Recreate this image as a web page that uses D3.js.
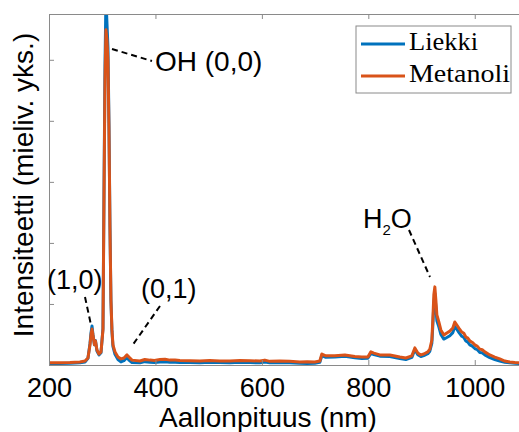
<!DOCTYPE html>
<html>
<head>
<meta charset="utf-8">
<script src="https://cdn.jsdelivr.net/npm/d3@7"></script>
<style>
  html, body { margin: 0; padding: 0; background: #fff; }
  svg { display: block; }
</style>
</head>
<body>
<svg id="chart" width="519" height="432"></svg>
<script>
// ---- data ----
const wavelength = [200, 220.7, 239.4, 258, 267.6, 273.2, 277, 278.9, 280.8, 282.6, 285.4, 287.3, 290.1, 293.9, 297.7, 301.4, 303.3, 305.2, 307.0, 308.9, 310.8, 312.7, 314.6, 316.4, 318.3, 320.2, 324.0, 329.6, 335.2, 340.8, 346.5, 350.2, 355.9, 370.9, 380, 389.7, 398, 408.5, 418, 427.2, 437, 446, 465, 483.6, 502, 521.1, 540, 558.7, 578, 596.2, 605.6, 615, 633.8, 652, 671.4, 685, 699.5, 708.9, 712.7, 720.2, 737.1, 755.9, 774.7, 787.8, 799.1, 804.8, 810.4, 821.6, 840.4, 859.2, 870.5, 881.8, 887.4, 893.0, 898.7, 904.3, 911.8, 915.6, 919.4, 921.2, 923.1, 925.0, 926.9, 928.8, 932.5, 936.3, 941.9, 947.5, 953.2, 958.8, 962.5, 966.3, 970.1, 975.7, 979.5, 983.2, 987, 990.7, 995.4, 1000.1, 1005, 1009.5, 1014, 1018.9, 1028.2, 1037.6, 1047.0, 1056.4, 1065.8, 1075.2, 1084.6];

const liekki = [0.005, 0.005, 0.006, 0.007, 0.010, 0.022, 0.070, 0.105, 0.128, 0.100, 0.066, 0.080, 0.046, 0.033, 0.040, 0.120, 0.560, 0.980, 1.200, 1.120, 1.040, 0.790, 0.450, 0.210, 0.110, 0.060, 0.035, 0.018, 0.010, 0.014, 0.025, 0.016, 0.008, 0.007, 0.011, 0.009, 0.008, 0.010, 0.011, 0.009, 0.009, 0.008, 0.008, 0.007, 0.009, 0.008, 0.007, 0.009, 0.008, 0.007, 0.010, 0.007, 0.008, 0.007, 0.006, 0.005, 0.006, 0.009, 0.031, 0.025, 0.026, 0.029, 0.024, 0.021, 0.022, 0.038, 0.034, 0.029, 0.028, 0.021, 0.018, 0.025, 0.050, 0.034, 0.028, 0.031, 0.037, 0.045, 0.072, 0.130, 0.200, 0.235, 0.190, 0.145, 0.125, 0.100, 0.085, 0.090, 0.096, 0.106, 0.126, 0.117, 0.107, 0.094, 0.090, 0.079, 0.075, 0.066, 0.062, 0.054, 0.050, 0.041, 0.040, 0.033, 0.024, 0.018, 0.013, 0.009, 0.007, 0.006, 0.005];

const metanoli = [0.007, 0.007, 0.008, 0.010, 0.013, 0.023, 0.066, 0.098, 0.118, 0.098, 0.066, 0.079, 0.049, 0.036, 0.043, 0.115, 0.541, 0.934, 1.098, 1.066, 1.000, 0.770, 0.443, 0.213, 0.115, 0.066, 0.043, 0.026, 0.020, 0.023, 0.033, 0.026, 0.016, 0.013, 0.018, 0.016, 0.015, 0.018, 0.019, 0.016, 0.016, 0.015, 0.014, 0.013, 0.015, 0.013, 0.013, 0.015, 0.014, 0.013, 0.016, 0.012, 0.013, 0.012, 0.010, 0.011, 0.010, 0.013, 0.036, 0.030, 0.030, 0.033, 0.028, 0.026, 0.026, 0.043, 0.039, 0.033, 0.033, 0.026, 0.023, 0.030, 0.056, 0.039, 0.033, 0.036, 0.043, 0.052, 0.082, 0.148, 0.230, 0.256, 0.213, 0.164, 0.141, 0.115, 0.098, 0.105, 0.111, 0.121, 0.141, 0.131, 0.121, 0.108, 0.104, 0.092, 0.088, 0.079, 0.074, 0.066, 0.061, 0.052, 0.050, 0.043, 0.033, 0.026, 0.020, 0.013, 0.010, 0.008, 0.007];

const xTicks = [200, 400, 600, 800, 1000];
const yTicks = [0, 0.2, 0.4, 0.6, 0.8, 1.0];
const seriesNames = ["Liekki", "Metanoli"];
const seriesColors = ["#0072BD", "#D95319"];

// ---- layout ----
const svg = d3.select("#chart");
const pLeft = 49, pRight = 520, pTop = 14, pBottom = 365;

const x = d3.scaleLinear().domain([200, 1085]).range([pLeft, pRight]);
const y = d3.scaleLinear().domain([0, 1.15]).range([pBottom, pTop]);

svg.append("defs").append("clipPath").attr("id", "clip")
  .append("rect").attr("x", pLeft).attr("y", pTop)
  .attr("width", pRight - pLeft).attr("height", pBottom - pTop);

// series
const line = d3.line().x(d => x(d[0])).y(d => y(d[1]));
const allSeries = [liekki, metanoli];
allSeries.forEach((vals, i) => {
  svg.append("path")
    .datum(wavelength.map((w, j) => [w, vals[j]]))
    .attr("clip-path", "url(#clip)")
    .attr("fill", "none")
    .attr("stroke", seriesColors[i])
    .attr("stroke-width", 3)
    .attr("stroke-linejoin", "round")
    .attr("d", line);
});

// axes
const axisColor = "#8a8a8a";
const gB = svg.append("g").attr("transform", `translate(0,${pBottom})`)
  .call(d3.axisBottom(x).tickValues(xTicks).tickFormat(d3.format("d"))
    .tickSizeInner(-5).tickSizeOuter(0).tickPadding(13));
const gT = svg.append("g").attr("transform", `translate(0,${pTop})`)
  .call(d3.axisTop(x).tickValues(xTicks).tickSizeInner(-5).tickSizeOuter(0).tickFormat(""));
const gL = svg.append("g").attr("transform", `translate(${pLeft},0)`)
  .call(d3.axisLeft(y).tickValues(yTicks).tickSizeInner(-5).tickSizeOuter(0).tickFormat(""));
[gB, gT, gL].forEach(g => {
  g.select(".domain").attr("stroke", axisColor).attr("stroke-width", 1);
  g.selectAll(".tick line").attr("stroke", axisColor);
});
gB.selectAll(".tick text")
  .attr("font-family", "Liberation Sans, Arial, sans-serif")
  .attr("font-size", 27).attr("fill", "#000");

// axis titles
svg.append("text")
  .attr("x", 268).attr("y", 427)
  .attr("text-anchor", "middle")
  .attr("font-family", "Liberation Sans, Arial, sans-serif")
  .attr("font-size", 28).attr("fill", "#000")
  .text("Aallonpituus (nm)");
svg.append("text")
  .attr("transform", "translate(33,185) rotate(-90)")
  .attr("text-anchor", "middle")
  .attr("font-family", "Liberation Sans, Arial, sans-serif")
  .attr("font-size", 28).attr("fill", "#000")
  .text("Intensiteetti (mieliv. yks.)");

// annotations
const annFont = "Liberation Sans, Arial, sans-serif";
const dash = "6,4";
const annLines = [
  [112, 49, 152, 61],
  [85, 297, 91, 325],
  [160, 306, 132, 346],
  [409, 230, 430, 277]
];
annLines.forEach(l => {
  svg.append("line").attr("x1", l[0]).attr("y1", l[1]).attr("x2", l[2]).attr("y2", l[3])
    .attr("stroke", "#000").attr("stroke-width", 2).attr("stroke-dasharray", dash);
});
svg.append("text").attr("x", 155).attr("y", 71).attr("font-family", annFont)
  .attr("font-size", 28).attr("fill", "#000").text("OH (0,0)");
svg.append("text").attr("x", 47).attr("y", 289).attr("font-family", annFont)
  .attr("font-size", 27).attr("fill", "#000").text("(1,0)");
svg.append("text").attr("x", 141).attr("y", 298).attr("font-family", annFont)
  .attr("font-size", 27).attr("fill", "#000").text("(0,1)");
const h2o = svg.append("text").attr("x", 363).attr("y", 228).attr("font-family", annFont)
  .attr("font-size", 27).attr("fill", "#000");
h2o.append("tspan").text("H");
h2o.append("tspan").attr("font-size", 15).attr("dy", 7).text("2");
h2o.append("tspan").attr("dy", -7).text("O");

// legend
const lg = svg.append("g");
lg.append("rect").attr("x", 356).attr("y", 26).attr("width", 155).attr("height", 67)
  .attr("fill", "#fff").attr("stroke", "#8a8a8a").attr("stroke-width", 1);
const legendY = [44, 76];
const legendBase = [50, 82];
const legendLen = [69, 101];
seriesNames.forEach((name, i) => {
  lg.append("line").attr("x1", 361).attr("x2", 405).attr("y1", legendY[i]).attr("y2", legendY[i])
    .attr("stroke", seriesColors[i]).attr("stroke-width", 3);
  lg.append("text").attr("x", 409).attr("y", legendBase[i])
    .attr("font-family", "Liberation Serif, 'Times New Roman', serif")
    .attr("font-size", 25).attr("fill", "#000")
    .attr("textLength", legendLen[i]).attr("lengthAdjust", "spacingAndGlyphs")
    .text(name);
});
</script>
</body>
</html>
